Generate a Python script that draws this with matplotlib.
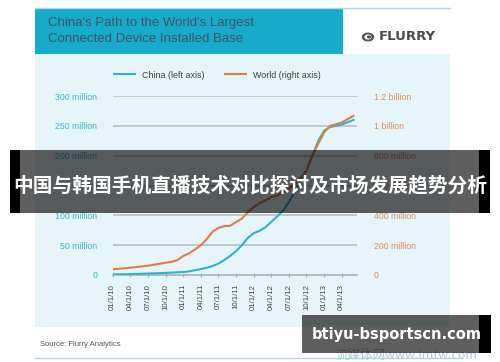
import matplotlib as mpl
import matplotlib.pyplot as plt
from matplotlib.patches import Rectangle, Circle

# chart data (millions) (0 = Jan 2010)
months = [0, 3, 6, 9, 10, 11, 12, 13, 14, 15, 16, 17, 18, 19, 20, 21, 22, 23, 24,
          25, 26, 27, 28, 29, 30, 31, 32, 33, 34, 35, 36, 37, 38, 39, 40, 41]
china = [1, 1.5, 2.5, 3.5, 4, 4.5, 5, 6, 8, 10, 12, 15, 19, 25, 32, 40, 50, 62, 70,
         74, 80, 89, 98, 108, 122, 140, 158, 175, 200, 225, 242, 248, 250, 252, 256, 260]
world = [38, 49, 62, 82, 88, 100, 127, 145, 170, 200, 240, 290, 316, 327, 330, 355, 378, 420, 455,
         482, 500, 522, 533, 555, 578, 610, 650, 700, 800, 880, 955, 1000, 1010, 1022, 1045, 1067]

tick_months = list(range(0, 40, 3))
tick_labels = ['01/1/10', '04/1/10', '07/1/10', '10/1/10', '01/1/11', '04/1/11', '07/1/11',
               '10/1/11', '01/1/12', '04/1/12', '07/1/12', '10/1/12', '01/1/13', '04/1/13']
left_ticks = [0, 50, 100, 150, 200, 250, 300]
left_labels = ['0', '50 million', '100 million', '150 million', '200 million', '250 million', '300 million']
right_ticks = [0, 200, 400, 600, 800, 1000, 1200]
right_labels = ['0', '200 million', '400 million', '600 million', '800 million', '1 billion', '1.2 billion']

c_china = '#2db4c8'
c_world = '#e27b48'
c_grid = '#b3bfc2'
narrow = 'Liberation Sans'

W, H = 500, 362
def fx(x): return x / W
def fy(y): return 1 - y / H

fig = plt.figure(figsize=(5, 3.62), dpi=100)
fig.patch.set_facecolor('white')

def box(x0, y0, x1, y1, color, z, alpha=1.0):
    fig.add_artist(Rectangle((fx(x0), fy(y1)), fx(x1) - fx(x0), fy(y0) - fy(y1),
                             transform=fig.transFigure, facecolor=color, edgecolor='none',
                             alpha=alpha, zorder=z))

# panels
box(35, 54, 450, 327, '#e6f5f9', -2)
box(35, 8, 343, 54, '#17abcb', -2)
fig.add_artist(plt.Line2D([fx(35), fx(450)], [fy(8), fy(8)], transform=fig.transFigure,
                          color='#a9dbe6', lw=1, zorder=-1))
fig.add_artist(plt.Line2D([fx(35), fx(460)], [fy(358), fy(358)], transform=fig.transFigure,
                          color='#a9dbe6', lw=1, zorder=-1))

fig.text(fx(48), fy(31), "China's Path to the World's Largest\nConnected Device Installed Base",
         family=narrow, fontsize=9.5, color='#3b5763', va='center', ha='left', linespacing=1.35)

# flurry logo
fig.add_artist(Circle((fx(368), fy(37)), 6.2 / W, transform=fig.transFigure, facecolor='#555555',
                      edgecolor='none', zorder=2))
fig.add_artist(Circle((fx(368), fy(37)), 3.6 / W, transform=fig.transFigure, facecolor='white',
                      edgecolor='none', zorder=2))
fig.add_artist(Circle((fx(369), fy(37)), 2.2 / W, transform=fig.transFigure, facecolor='#555555',
                      edgecolor='none', zorder=2))
fig.text(fx(379), fy(37), 'FLURRY', fontsize=9.5, fontweight='bold', color='#4a4a4a',
         va='center', ha='left')

fig.text(fx(40), fy(345), 'Source: Flurry Analytics', family=narrow, fontsize=5.5,
         color='#555555', va='center', ha='left')

# main axes
ax = fig.add_axes([fx(112.7), fy(275), fx(357) - fx(112.7), fy(96) - fy(275)])
ax.patch.set_visible(False)
ax.set_xlim(0, 41.6)
ax.set_ylim(0, 300)
for y in left_ticks[1:]:
    ax.axhline(y, color=c_grid, lw=1.1, zorder=0)
ax.plot(months, china, color=c_china, lw=1.5, zorder=3, label='China (left axis)')
for s in ['top', 'right', 'left']:
    ax.spines[s].set_visible(False)
ax.spines['bottom'].set_color('#9fb0b5')
ax.spines['bottom'].set_linewidth(1.1)
ax.set_xticks(tick_months)
ax.set_xticklabels(tick_labels, rotation=90, family=narrow, fontsize=5.6, color='#444444')
ax.tick_params(axis='x', direction='inout', length=3, color='#9fb0b5', pad=5)
ax.set_yticks(left_ticks)
ax.set_yticklabels(left_labels, family=narrow, fontsize=6.3, color='#3ab7c9')
ax.tick_params(axis='y', length=0, pad=11)

ax2 = ax.twinx()
ax2.set_ylim(0, 1200)
ax2.plot(months, world, color=c_world, lw=1.5, zorder=3, label='World (right axis)')
for s in ['top', 'right', 'left', 'bottom']:
    ax2.spines[s].set_visible(False)
ax2.set_yticks(right_ticks)
ax2.set_yticklabels(right_labels, family=narrow, fontsize=6.3, color='#e0895a')
ax2.tick_params(axis='y', length=0, pad=12)

h1, l1 = ax.get_legend_handles_labels()
h2, l2 = ax2.get_legend_handles_labels()
leg = fig.legend(h1 + h2, l1 + l2, ncol=2, frameon=False, loc='center left',
                 bbox_to_anchor=(fx(106), fy(75)), handlelength=2.4, columnspacing=2.2,
                 handletextpad=0.8, prop={'family': narrow, 'size': 6.4})
for t in leg.get_texts():
    t.set_color('#3c3c3c')

# watermark
fig.text(fx(335), fy(355), '流媒体网www.lmtw.com', family=['Noto Sans CJK SC', 'DejaVu Sans'],
         fontsize=9, color='#a7cbe3', va='center', ha='left', zorder=4)

# overlay banners
box(10, 150, 20, 213, 'black', 5)
box(479, 150, 490, 213, 'black', 5)
box(20, 150, 479, 213, 'black', 5, alpha=0.63)
fig.text(fx(250), fy(186), '中国与韩国手机直播技术对比探讨及市场发展趋势分析',
         family=['Noto Sans CJK SC', 'DejaVu Sans'], fontweight='bold', fontsize=14.2,
         color='white', ha='center', va='center', zorder=7)

box(479, 315, 491, 353, 'black', 5)
box(302, 315, 479, 353, 'black', 5, alpha=0.63)
fig.text(fx(397), fy(335), 'btiyu-bsportscn.com', fontweight='bold', fontsize=10.5,
         color='white', ha='center', va='center', zorder=7)

fig.savefig('out.png', dpi=100)
